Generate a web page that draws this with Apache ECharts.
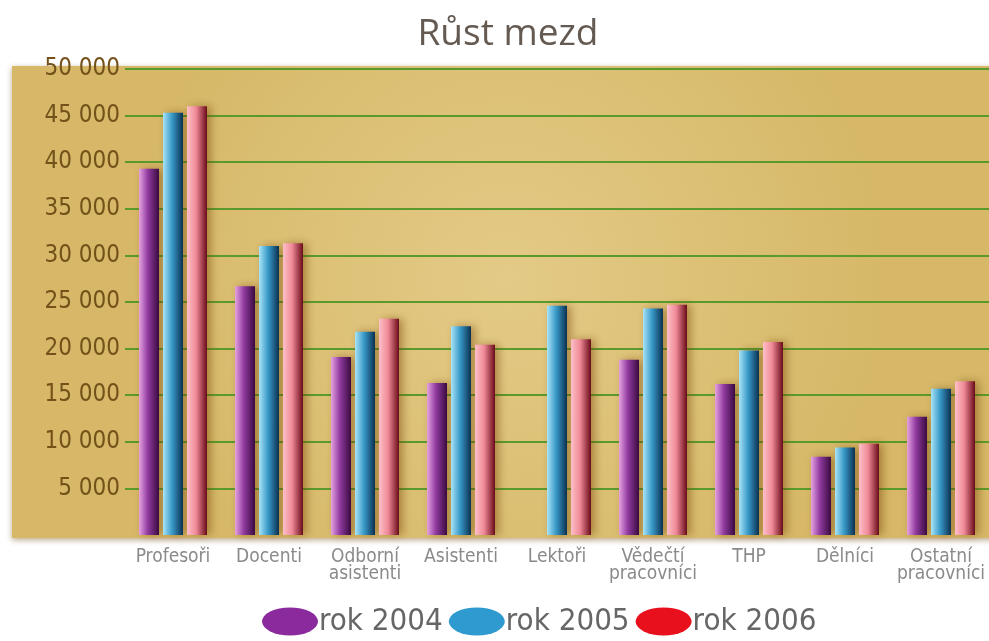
<!DOCTYPE html>
<html><head><meta charset="utf-8">
<script src="https://cdn.jsdelivr.net/npm/echarts@6/dist/echarts.min.js"></script>
<style>html,body{margin:0;padding:0;background:#fff}#c{width:989px;height:641px}</style>
</head><body><div id="c"></div>
<script>
const categories = ['Profesoři','Docenti','Odborní\nasistenti','Asistenti','Lektoři','Vědečtí\npracovníci','THP','Dělníci','Ostatní\npracovníci'];
const seriesNames = ['rok 2004','rok 2005','rok 2006'];
const rok2004 = [39300, 26700, 19100, 16300, null, 18800, 16200, 8400, 12700];
const rok2005 = [45300, 31000, 21800, 22400, 24600, 24300, 19800, 9400, 15700];
const rok2006 = [46000, 31300, 23200, 20400, 21000, 24700, 20700, 9800, 16500];
const yTicks = {min: 0, max: 50000, interval: 5000};

const chart = echarts.init(document.getElementById('c'));
function grad(a, b, c) {
  return new echarts.graphic.LinearGradient(0, 0, 1, 0, [
    {offset: 0, color: a}, {offset: 0.45, color: b}, {offset: 1, color: c}
  ]);
}
const fills = [
  grad('#e6a2e0', '#8e3a9e', '#3a0a40'),
  grad('#a8e4f8', '#3a9ac8', '#0a3050'),
  grad('#fcc0c8', '#f08a98', '#6a0a18')
];
const legendColors = ['#8a2a9c', '#2f9ad0', '#e8101c'];
const data = [rok2004, rok2005, rok2006];
const narrow = '"DejaVu Sans Condensed", sans-serif';

chart.setOption({
  animation: false,
  backgroundColor: '#ffffff',
  title: {
    text: 'Růst mezd', left: 503, top: 11, textAlign: 'center',
    textStyle: {fontFamily: 'Open Sans', fontWeight: 'normal', fontSize: 37, color: '#645a52'}
  },
  graphic: [{
    type: 'rect', z: -10, silent: true,
    shape: {x: 12, y: 66, width: 990, height: 472},
    style: {
      fill: new echarts.graphic.RadialGradient(0.5, 0.45, 0.8, [
        {offset: 0, color: '#e3ca86'}, {offset: 1, color: '#d6b868'}
      ]),
      shadowBlur: 6, shadowColor: 'rgba(120,80,20,0.5)', shadowOffsetY: 2
    }
  }],
  legend: {
    bottom: -1, left: 257, itemWidth: 56, itemHeight: 28, itemGap: 6,
    icon: 'path://M0,14 A28,14 0 1,1 56,14 A28,14 0 1,1 0,14 Z',
    textStyle: {fontFamily: 'DejaVu Sans Condensed', fontSize: 31, color: '#666666', padding: [0, 0, 0, -4]},
    data: seriesNames.map((n, i) => ({name: n, itemStyle: {color: legendColors[i]}}))
  },
  grid: {left: 125, right: -14, top: 69, height: 466},
  xAxis: {
    type: 'category', data: categories,
    axisLine: {show: false}, axisTick: {show: false},
    axisLabel: {color: '#8a8a8a', fontFamily: narrow, fontSize: 19, lineHeight: 17, margin: 14, interval: 0}
  },
  yAxis: {
    type: 'value', min: yTicks.min, max: yTicks.max, interval: yTicks.interval,
    axisLine: {show: false},
    axisTick: {show: false},
    axisLabel: {
      color: '#735119', fontFamily: narrow, fontSize: 24, margin: 5,
      formatter: v => v === 0 ? '' : String(v).replace(/\B(?=(\d{3})+(?!\d))/g, ' ')
    },
    splitLine: {show: true, showMinLine: false, lineStyle: {color: '#5a9a2c', width: 2}}
  },
  series: seriesNames.map((n, i) => ({
    name: n, type: 'bar', data: data[i], barWidth: 20, barGap: '20%',
    itemStyle: {color: fills[i], shadowBlur: 8, shadowColor: 'rgba(110,60,0,0.45)', shadowOffsetX: 4}
  }))
});
</script></body></html>
